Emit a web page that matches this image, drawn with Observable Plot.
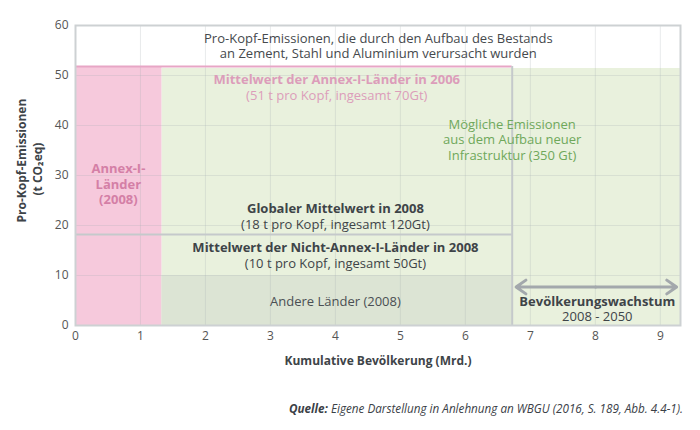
<!DOCTYPE html>
<html><head><meta charset="utf-8">
<script src="https://cdn.jsdelivr.net/npm/d3@7"></script>
<script src="https://cdn.jsdelivr.net/npm/@observablehq/plot@0.6"></script>
<style>
body{margin:0;background:#fff;font-family:"Open Sans",sans-serif;}
#caption{width:700px;box-sizing:border-box;padding:10px 17px 0 0;text-align:right;font-size:11.7px;font-style:italic;color:#3b4147;line-height:16px;}
</style></head><body>
<div id="chart"></div>
<div id="caption"><b>Quelle:</b> Eigene Darstellung in Anlehnung an WBGU (2016, S. 189, Abb. 4.4-1).</div>
<script>
// Population (Mrd.)
const popAnnex = 1.33;
const popWorld2008 = 6.72;
const popWorld2050 = 9.25;
const xMax = 9.31;
// Per-capita emissions (t CO2eq)
const meanAnnex2006 = 51.8;
const meanGlobal2008 = 18.2;
const meanNonAnnex2008 = 10;
const potentialFuture = 51.4;
const yMax = 60;

const xTicks = [0, 1, 2, 3, 4, 5, 6, 7, 8, 9];
const yTicks = [0, 10, 20, 30, 40, 50, 60];

const regionKeys = ["Annex-I", "Zukunft", "Andere"];
const regionColors = ["#f6c9dc", "#e9f1dd", "#dce4d4"];

const regions = [
  {key: "Zukunft", x1: popAnnex, x2: xMax, y1: 0, y2: potentialFuture},
  {key: "Annex-I", x1: 0, x2: popAnnex, y1: 0, y2: meanAnnex2006},
  {key: "Andere", x1: popAnnex, x2: popWorld2008, y1: 0, y2: meanNonAnnex2008}
];

// annotations: text with anchor x, y in data units
const noteTop = {text: "Pro-Kopf-Emissionen, die durch den Aufbau des Bestands\nan Zement, Stahl und Aluminium verursacht wurden", x: 4.66, y: 56};
const annexTitle = {text: "Mittelwert der Annex-I-Länder in 2006", x: 4.02, y: 49.2};
const annexSub = {text: "(51 t pro Kopf, ingesamt 70Gt)", x: 4.02, y: 46};
const annexLabel = {text: "Annex-I-\nLänder\n(2008)", x: 0.66, y: 28.35};
const futureLabel = {text: "Mögliche Emissionen\naus dem Aufbau neuer\nInfrastruktur (350 Gt)", x: 6.72, y: 37.2};
const globalTitle = {text: "Globaler Mittelwert in 2008", x: 4.0, y: 23.4};
const globalSub = {text: "(18 t pro Kopf, ingesamt 120Gt)", x: 4.0, y: 20.2};
const nonAnnexTitle = {text: "Mittelwert der Nicht-Annex-I-Länder in 2008", x: 4.0, y: 15.6};
const nonAnnexSub = {text: "(10 t pro Kopf, ingesamt 50Gt)", x: 4.0, y: 12.4};
const otherLabel = {text: "Andere Länder (2008)", x: 4.0, y: 4.8};
const growthTitle = {text: "Bevölkerungswachstum", x: 8.03, y: 4.8};
const growthSub = {text: "2008 - 2050", x: 8.03, y: 1.8};
// y-axis title lines, anchored at their start (bottom, text runs upward)
const yLabel = [
  {text: "Pro-Kopf-Emissionen", x: 0, y: 20.6},
  {text: "(t CO₂eq)", x: 0, y: 26}
];
const xLabel = "Kumulative Bevölkerung (Mrd.)";
const arrowY = 7.7;
const arrowMid = (popWorld2008 + popWorld2050) / 2 + 0.02;

const pink = "#e7a6c5";
const pinkText = "#d47fa6";
const pinkLight = "#dc9dba";
const green = "#6fa85b";
const dark = "#3e4448";
const lineGray = "#c5c9cb";

const txt = (d, o) => Plot.text([d], {x: "x", y: "y", text: "text", fontSize: 13, lineHeight: 1.17, ...o});

const chart = Plot.plot({
  width: 700,
  height: 390,
  marginTop: 25,
  marginBottom: 65,
  marginLeft: 75,
  marginRight: 20,
  style: {fontFamily: "Open Sans", background: "#fff"},
  x: {domain: [0, xMax]},
  y: {domain: [0, yMax]},
  color: {domain: regionKeys, range: regionColors},
  marks: [
    Plot.rect(regions, {x1: "x1", x2: "x2", y1: "y1", y2: "y2", fill: "key"}),
    Plot.gridX(xTicks.filter(d => d > 0), {stroke: "#a9aeb2", strokeOpacity: 0.25}),
    Plot.gridY(yTicks.filter(d => d > 0 && d < 60), {stroke: "#a9aeb2", strokeOpacity: 0.25}),
    Plot.ruleY([meanAnnex2006], {x1: 0, x2: popWorld2008, stroke: pink, strokeWidth: 2}),
    Plot.ruleY([meanGlobal2008], {x1: 0, x2: popWorld2008, stroke: lineGray, strokeWidth: 2}),
    Plot.ruleX([popWorld2008], {y1: 0, y2: meanAnnex2006, stroke: lineGray, strokeWidth: 2}),
    Plot.frame({stroke: "#cdd1d3", strokeWidth: 2}),
    Plot.arrow([{x1: arrowMid, x2: popWorld2008 + 0.06}, {x1: arrowMid, x2: popWorld2050}], {
      x1: "x1", x2: "x2", y1: arrowY, y2: arrowY, bend: 0, stroke: "#a3a8ac", strokeWidth: 3, headLength: 6, headAngle: 70
    }),
    Plot.axisX(xTicks, {tickSize: 0, tickPadding: 6, fontSize: 12, fill: "#555", label: null}),
    Plot.axisY(yTicks, {tickSize: 0, tickPadding: 7, fontSize: 12, fill: "#555", label: null}),
    txt(noteTop, {fill: "#45494d"}),
    txt(annexTitle, {fill: pinkLight, fontWeight: "bold"}),
    txt(annexSub, {fill: pinkLight}),
    txt(annexLabel, {fill: pinkText, fontWeight: "bold"}),
    txt(futureLabel, {fill: green}),
    txt(globalTitle, {fill: dark, fontWeight: "bold"}),
    txt(globalSub, {fill: dark}),
    txt(nonAnnexTitle, {fill: dark, fontWeight: "bold"}),
    txt(nonAnnexSub, {fill: dark}),
    txt(otherLabel, {fill: "#4a4f53"}),
    txt(growthTitle, {fill: dark, fontWeight: "bold"}),
    txt(growthSub, {fill: dark}),
    Plot.text([xLabel], {frameAnchor: "bottom", lineAnchor: "middle", textAnchor: "middle", dy: 36, fontSize: 12, fontWeight: "bold", fill: dark}),
    Plot.text([yLabel[0]], {x: "x", y: "y", text: "text", dx: -53, rotate: -90, textAnchor: "start", fontSize: 12, fontWeight: "bold", fill: dark}),
    Plot.text([yLabel[1]], {x: "x", y: "y", text: "text", dx: -37, rotate: -90, textAnchor: "start", fontSize: 12, fontWeight: "bold", fill: dark})
  ]
});
document.getElementById("chart").appendChild(chart);
</script>
</body></html>
